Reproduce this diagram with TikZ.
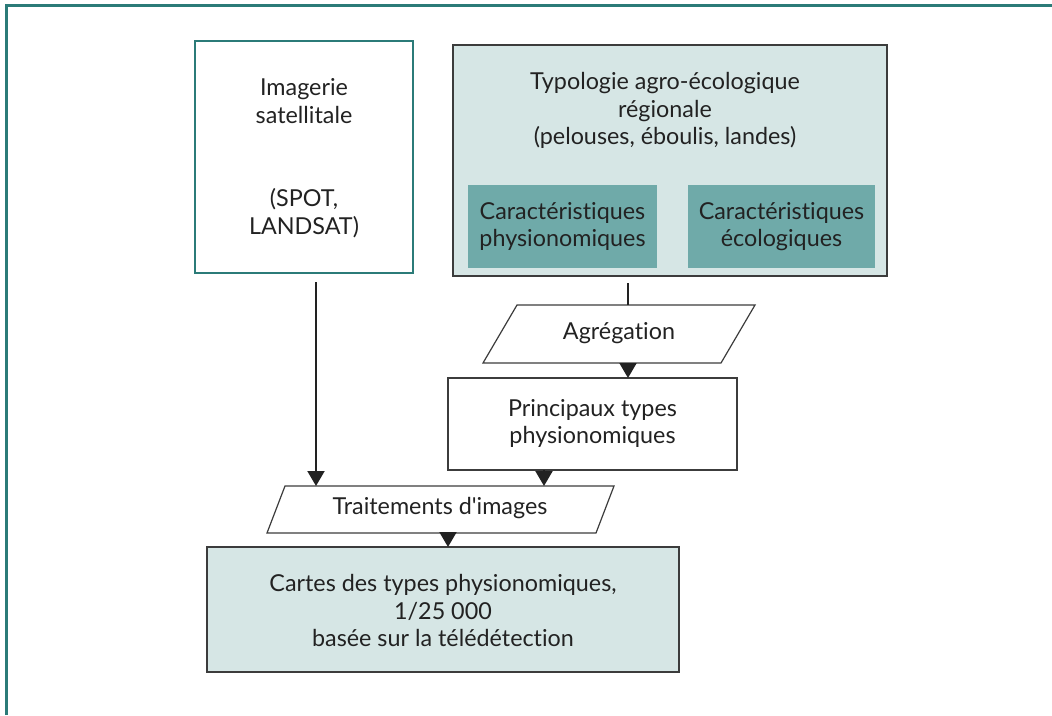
\documentclass[tikz,border=0pt]{standalone}
\usepackage{fontspec}
\setmainfont[Ligatures={TeX,NoCommon}]{Lato}
\usetikzlibrary{arrows.meta,calc}
\definecolor{frameteal}{HTML}{2B7B78}
\definecolor{palefill}{HTML}{D6E6E5}
\definecolor{midteal}{HTML}{6FAAA9}
\definecolor{inkgray}{HTML}{222222}
\definecolor{edgegray}{HTML}{3C3C3C}
\tikzset{
  box/.style={draw=edgegray, line width=0.9pt, inner sep=0pt, outer sep=0pt},
  tealbox/.style={box, draw=frameteal, fill=white},
  palebox/.style={box, fill=palefill},
  innerbox/.style={inner sep=0pt, outer sep=0pt, fill=midteal},
  frame/.style={inner sep=0pt, outer sep=0pt},
  outline/.style={draw=edgegray, line width=0.9pt, fill=white, line join=miter},
  label/.style={align=center, text=inkgray, inner sep=0pt},
  link/.style={draw=inkgray, line width=1.5pt, line cap=butt},
  arr/.style={link, -{Triangle[width=12.75pt,length=11.25pt]}},
}
\begin{document}
\begin{tikzpicture}[x=0.75pt,y=-0.75pt, font=\fontsize{17.5}{20.6}\selectfont]
\useasboundingbox (0,0) rectangle (1052,715);

% outer frame
\draw[frameteal, line width=1.6pt] (6.5,715) -- (6.5,5.5) -- (1052,5.5);

% boxes
\node[tealbox, minimum width={218*0.75pt}, minimum height={232*0.75pt}] (img) at (304,157) {};
\node[palebox, minimum width={434*0.75pt}, minimum height={231*0.75pt}] (typ) at (670,160.5) {};
\node[innerbox, minimum width={189*0.75pt}, minimum height={83*0.75pt}] (phy) at (562.5,226.5) {};
\node[innerbox, minimum width={187*0.75pt}, minimum height={83*0.75pt}] (eco) at (781.5,226.5) {};
\node[box, fill=white, minimum width={289*0.75pt}, minimum height={92*0.75pt}] (prin) at (592.5,424) {};
\node[palebox, minimum width={472*0.75pt}, minimum height={125*0.75pt}] (carte) at (443,609.5) {};

% slanted steps: a frame node for the anchors, the parallelogram drawn inside it
\node[frame, minimum width={272*0.75pt}, minimum height={58*0.75pt}] (agr) at (619,334) {};
\draw[outline] (agr.south west) -- ($(agr.north west)+(34,0)$) -- (agr.north east)
  -- ($(agr.south east)+(-34,0)$) -- cycle;
\node[frame, minimum width={347*0.75pt}, minimum height={47*0.75pt}] (trt) at (440.5,509.5) {};
\draw[outline] (trt.south west) -- ($(trt.north west)+(18,0)$) -- (trt.north east)
  -- ($(trt.south east)+(-18,0)$) -- cycle;

% texts
\node[label] (imgA) at (304,101) {Imagerie\\satellitale};
\node[label] (imgB) at (304,213) {(SPOT,\\LANDSAT)};
\node[label] (typT) at (665,110.5) {Typologie agro-écologique\\régionale\\(pelouses, éboulis, landes)};
\node[label] (phyT) at (phy.center) {Caractéristiques\\physionomiques};
\node[label] (ecoT) at (eco.center) {Caractéristiques\\écologiques};
\node[label] (agrT) at (619,333) {Agrégation};
\node[label] (prinT) at (592.5,423.5) {Principaux types\\physionomiques};
\node[label] (trtT) at (440,508) {Traitements d\textquotesingle images};
\node[label] (carteT) at (443,610.5) {Cartes des types physionomiques,\\1/25 000\\basée sur la télédétection};

% connectors
\coordinate (a1) at ($(img.south)+(12,9)$);
\draw[arr] (a1) -- (a1 |- trt.north);
\coordinate (a2) at ($(typ.south)+(-42,7)$);
\draw[link] (a2) -- (a2 |- agr.north);
\draw[arr] (agr.south -| a2) -- (a2 |- prin.north);
\coordinate (a3) at ($(prin.south)+(-48.5,0)$);
\draw[arr] (a3) -- (a3 |- trt.north);
\coordinate (a4) at ($(trt.south)+(7.5,0)$);
\draw[arr] (a4) -- (a4 |- carte.north);
\end{tikzpicture}
\end{document}
